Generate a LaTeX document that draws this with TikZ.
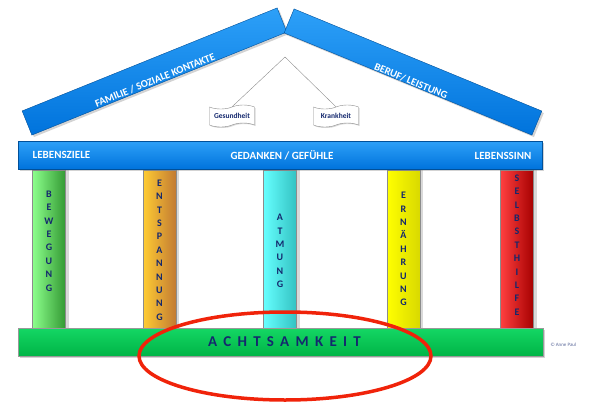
\documentclass[tikz,border=0pt]{standalone}
\usepackage{fontspec}
\setmainfont{Carlito}
\usetikzlibrary{shapes.symbols}
\usetikzlibrary{shadows}

\definecolor{roofblue}{RGB}{0,115,220}
\definecolor{rooflight}{RGB}{45,160,248}
\definecolor{inkblue}{RGB}{20,40,110}
\definecolor{basegreen}{RGB}{0,180,70}
\definecolor{baselight}{RGB}{20,215,100}
\definecolor{ringred}{RGB}{240,35,10}

\begin{document}
\begin{tikzpicture}[x=1pt,y=-1pt,
	beam/.style={rectangle, inner sep=0pt, top color=rooflight, bottom color=roofblue, draw=roofblue!70!black, drop shadow={shadow xshift=2pt, shadow yshift=-2pt, opacity=0.35}},
	beamtext/.style={text=white, font=\bfseries\fontsize{10.5}{12}\selectfont},
	bartext/.style={text=white, font=\bfseries\fontsize{11}{12}\selectfont},
	pillar/.style={rectangle, inner sep=0pt, minimum width=33, minimum height=158, draw=black!45, drop shadow={shadow xshift=3pt, shadow yshift=0pt, opacity=0.3}},
	pillartext/.style={text=inkblue, align=center, font=\bfseries\fontsize{10}{13.4}\selectfont},
	scroll/.style={tape, draw=black!45, fill=white, minimum width=45, minimum height=22, inner sep=0.5pt, tape bend height=4pt, text=inkblue, font=\bfseries\fontsize{7.5}{8}\selectfont, drop shadow={shadow xshift=1pt, shadow yshift=-1pt, opacity=0.3}}]
	\useasboundingbox (0,0) rectangle (590,402);

	% roof
	\node[beam, minimum width=275, minimum height=26, rotate=22] (family) at (154.5,71.5) {};
	\node[beam, minimum width=268, minimum height=26, rotate=-22.4] (job) at (413,72) {};
	\node[beamtext, rotate=22] (familytxt) at (155,80) {FAMILIE / SOZIALE KONTAKTE};
	\node[beamtext, rotate=-22.4] (jobtxt) at (411,81) {BERUF/ LEISTUNG};

	\coordinate (apex) at (285,57);
	\node[scroll] (health) at (232,116) {Gesundheit};
	\node[scroll] (illness) at (336,116) {Krankheit};
	\draw[black!45] (apex) -- (health.north);
	\draw[black!45] (apex) -- (illness.north);

	% pillars
	\node[pillar, left color=green!45, right color=green!50!black!80] (move) at (49,249) {};
	\node[pillar, left color=orange!50!yellow!80, right color=orange!70!black!80] (relax) at (159.5,249) {};
	\node[pillar, left color=cyan!60, right color=cyan!70!black!80] (breath) at (280,249) {};
	\node[pillar, left color=yellow, right color=yellow!85!black] (food) at (403.5,249) {};
	\node[pillar, left color=red!75, right color=red!65!black] (selfhelp) at (517,249) {};

	\node[pillartext] at ([yshift=8]move.center) {B\\E\\W\\E\\G\\U\\N\\G};
	\node[pillartext] at ([yshift=-1]relax.center) {E\\N\\T\\S\\P\\A\\N\\N\\U\\N\\G};
	\node[pillartext] at ([yshift=-2]breath.center) {A\\T\\M\\U\\N\\G};
	\node[pillartext] at (food.center) {E\\R\\N\\Ä\\H\\R\\U\\N\\G};
	\node[pillartext] at ([yshift=4]selfhelp.center) {S\\E\\L\\B\\S\\T\\H\\I\\L\\F\\E};

	% architrave and base
	\node[beam, minimum width=524, minimum height=28] (mind) at (280,155) {};
	\node[bartext] at (61.5,154.5) {LEBENSZIELE};
	\node[bartext] at (282,155) {GEDANKEN / GEFÜHLE};
	\node[bartext] at (503,155.5) {LEBENSSINN};

	\node[rectangle, minimum width=525, minimum height=28, top color=baselight, bottom color=basegreen, draw=black!40, drop shadow={shadow xshift=2pt, shadow yshift=-2pt, opacity=0.35}] (base) at (280.5,342) {};
	\node[text=inkblue, font=\bfseries\fontsize{15}{16}\selectfont\addfontfeature{LetterSpace=42}] at ([xshift=4]base.center) {ACHTSAMKEIT};
	\node[text=inkblue!70, font=\fontsize{5}{6}\selectfont, anchor=west] (copy) at (547,345) {© Anne Paul};

	% ring
	\draw[ringred, line width=3.5] (285,356) ellipse (146 and 44);
\end{tikzpicture}
\end{document}
